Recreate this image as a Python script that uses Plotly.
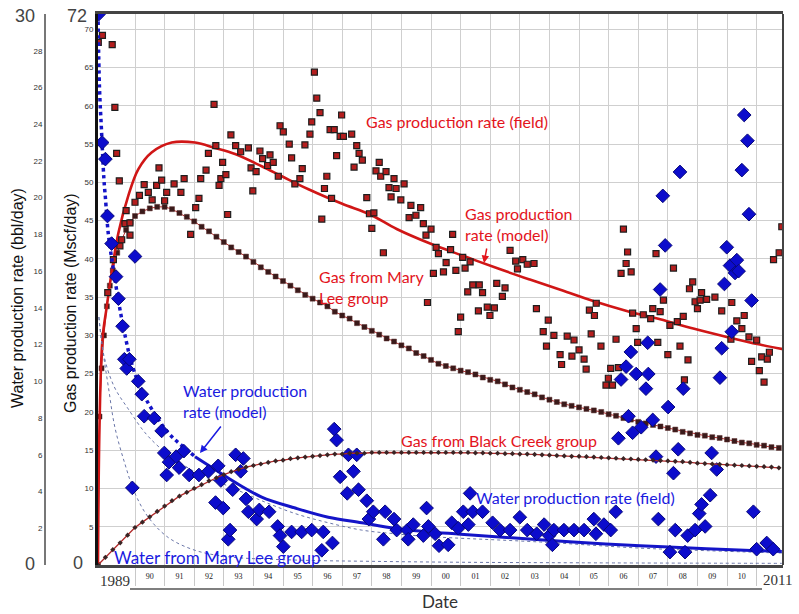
import plotly.graph_objects as go

# ---------------- data ----------------
gas_field_t = [1988.76, 1988.9, 1989.08, 1989.23, 1989.27, 1989.32, 1989.38, 1989.47, 1989.49, 1989.55,
               1989.66, 1989.70, 1989.83, 1989.83, 1990.00, 1990.15, 1990.31, 1990.45, 1990.58, 1990.73,
               1990.81, 1990.90, 1991.00, 1991.07, 1991.32, 1991.55, 1991.66, 1991.88, 1992.05, 1992.16,
               1992.22, 1992.40, 1992.48, 1992.67, 1992.73, 1992.84, 1992.90, 1992.96, 1993.07, 1993.13,
               1993.24, 1993.40, 1993.57, 1993.83, 1993.92, 1993.98, 1994.09, 1994.22, 1994.31, 1994.48,
               1994.56, 1994.67, 1994.84, 1994.90, 1995.01, 1995.21, 1995.29, 1995.40, 1995.57, 1995.65,
               1995.74, 1995.91, 1995.97, 1996.06, 1996.14, 1996.25, 1996.31, 1996.40, 1996.48, 1996.59,
               1996.64, 1996.73, 1996.81, 1996.93, 1996.98, 1997.04, 1997.32, 1997.40, 1997.49, 1997.57,
               1997.68, 1997.83, 1997.92, 1998.00, 1998.07, 1998.14, 1998.25, 1998.30, 1998.39, 1998.48,
               1998.58, 1998.65, 1998.75, 1998.82, 1998.98, 1999.09, 1999.26, 1999.32, 1999.49, 1999.65,
               1999.74, 1999.83, 1999.88, 2000.00, 2000.08, 2000.17, 2000.25, 2000.42, 2000.51, 2000.66,
               2000.73, 2000.84, 2000.92, 2001.00, 2001.07, 2001.15, 2001.24, 2001.32, 2001.41, 2001.60,
               2001.63, 2001.74, 2001.90, 2001.99, 2002.14, 2002.22, 2002.41, 2002.50, 2002.67, 2002.86,
               2002.92, 2003.10, 2003.25, 2003.48, 2003.56, 2003.79, 2003.90, 2003.96, 2004.15, 2004.36,
               2004.41, 2004.60, 2004.76, 2004.83, 2005.00, 2005.17, 2005.24, 2005.35, 2005.41, 2005.52,
               2005.58, 2005.74, 2005.91, 2005.99, 2006.07, 2006.13, 2006.25, 2006.33, 2006.42, 2006.50,
               2006.59, 2006.64, 2006.76, 2006.81, 2006.93, 2006.98, 2007.17, 2007.42, 2007.49, 2007.60,
               2007.66, 2007.74, 2007.85, 2008.00, 2008.07, 2008.19, 2008.32, 2008.41, 2008.52, 2008.56,
               2008.68, 2008.73, 2008.84, 2008.92, 2009.00, 2009.09, 2009.14, 2009.31, 2009.59, 2009.82,
               2010.13, 2010.16, 2010.33, 2010.50, 2010.58, 2010.74, 2010.83, 2011.00, 2011.09, 2011.17,
               2011.25, 2011.36, 2011.43, 2011.57, 2011.76, 2011.85]
gas_field_v = [68.3, 69.2, 35.6, 68.0, 39.9, 59.8, 53.8, 50.2, 41.7, 42.5,
               44.6, 46.3, 44.7, 43.1, 47.4, 48.3, 49.7, 48.7, 47.7, 49.6,
               51.9, 50.3, 47.6, 48.7, 49.8, 48.7, 50.5, 43.2, 46.7, 47.9,
               50.5, 51.6, 53.8, 60.2, 54.8, 49.6, 50.5, 52.6, 51.0, 45.8,
               56.2, 54.8, 54.0, 54.5, 51.9, 48.9, 51.4, 54.1, 53.1, 52.2,
               53.6, 52.6, 50.8, 57.4, 56.6, 55.0, 53.2, 49.8, 50.5, 51.8,
               54.9, 56.3, 57.9, 64.4, 61.0, 59.1, 45.2, 49.2, 50.8, 56.9,
               47.9, 56.9, 53.5, 56.0, 58.8, 56.0, 56.3, 52.0, 54.8, 53.8,
               52.9, 48.0, 45.9, 44.0, 46.0, 51.5, 52.6, 50.8, 40.8, 51.4,
               49.3, 48.1, 50.5, 49.2, 47.7, 49.8, 45.4, 47.0, 45.7, 46.7,
               44.6, 43.1, 34.3, 43.9, 38.1, 41.5, 40.7, 38.3, 39.5, 41.2,
               43.2, 38.5, 30.5, 32.4, 40.2, 38.8, 35.7, 39.6, 36.6, 33.2,
               36.6, 35.6, 33.7, 32.6, 33.6, 36.8, 35.1, 36.2, 41.1, 39.7,
               38.7, 39.9, 39.3, 39.4, 33.5, 30.5, 28.6, 32.0, 30.0, 27.5,
               26.2, 29.9, 27.3, 29.4, 28.1, 26.9, 25.6, 33.3, 30.2, 32.6,
               34.2, 28.6, 23.5, 24.4, 25.7, 23.5, 29.5, 25.8, 38.1, 43.9,
               39.4, 40.9, 38.3, 32.9, 30.9, 29.1, 32.7, 32.2, 33.5, 40.7,
               29.1, 33.1, 34.6, 27.5, 31.3, 38.8, 31.8, 28.6, 32.5, 24.2,
               26.8, 36.1, 37.0, 34.4, 33.5, 34.6, 35.6, 34.7, 35.0, 33.2,
               29.5, 34.3, 31.9, 30.9, 32.6, 29.8, 26.6, 29.4, 25.4, 27.2,
               23.9, 26.9, 27.8, 39.9, 40.8, 44.2]

gas_model_t = [1988.75, 1988.8, 1988.9, 1989.04, 1989.21, 1989.44, 1989.77, 1990.11, 1990.56, 1991.24,
               1992.03, 1992.7, 1993.38, 1994.28, 1994.96, 1995.86, 1997.0, 1997.94, 1998.84, 1999.97,
               2001.09, 2002.22, 2003.34, 2004.42, 2005.48, 2006.61, 2007.74, 2008.86, 2009.99, 2011.11,
               2011.89]
gas_model_v = [0.0, 18.0, 29.5, 33.6, 38.2, 43.4, 48.2, 51.7, 53.9, 55.2,
               55.2, 54.5, 53.7, 52.1, 50.8, 49.1, 47.2, 45.8, 43.9, 42.0,
               40.4, 38.8, 37.3, 35.9, 34.5, 33.2, 32.1, 30.9, 29.8, 28.8,
               28.2]

mary_lee_t = [1988.75, 1988.8, 1988.87, 1988.95, 1989.05, 1989.15, 1989.25, 1989.4, 1989.55, 1989.7,
              1989.85, 1990.0, 1990.25, 1990.5, 1990.75, 1991.0, 1991.25, 1991.5, 1991.75, 1992.0,
              1992.25, 1992.5, 1992.75, 1993.0, 1993.25, 1993.5, 1993.75, 1994.0, 1994.25, 1994.5,
              1994.75, 1995.0, 1995.25, 1995.5, 1995.75, 1996.0, 1996.25, 1996.5, 1996.75, 1997.0,
              1997.25, 1997.5, 1997.75, 1998.0, 1998.25, 1998.5, 1998.75, 1999.0, 1999.25, 1999.5,
              1999.75, 2000.0, 2000.25, 2000.5, 2000.75, 2001.0, 2001.25, 2001.5, 2001.75, 2002.0,
              2002.25, 2002.5, 2002.75, 2003.0, 2003.25, 2003.5, 2003.75, 2004.0, 2004.25, 2004.5,
              2004.75, 2005.0, 2005.25, 2005.5, 2005.75, 2006.0, 2006.25, 2006.5, 2006.75, 2007.0,
              2007.25, 2007.5, 2007.75, 2008.0, 2008.25, 2008.5, 2008.75, 2009.0, 2009.25, 2009.5,
              2009.75, 2010.0, 2010.25, 2010.5, 2010.75, 2011.0, 2011.25, 2011.5, 2011.75]
mary_lee_v = [0.0, 19.4, 25.7, 30.0, 33.8, 36.5, 38.5, 40.8, 42.5, 43.8,
              44.8, 45.6, 46.2, 46.6, 46.8, 46.8, 46.5, 46.0, 45.5, 44.9,
              44.2, 43.6, 42.9, 42.2, 41.5, 40.9, 40.3, 39.6, 38.9, 38.3,
              37.7, 37.1, 36.5, 35.9, 35.3, 34.8, 34.3, 33.8, 33.1, 32.6,
              32.2, 31.6, 31.1, 30.6, 30.1, 29.6, 29.2, 28.7, 28.3, 27.7,
              27.3, 26.8, 26.3, 26.0, 25.7, 25.4, 25.2, 24.9, 24.5, 24.2,
              24.0, 23.6, 23.2, 22.9, 22.6, 22.3, 21.9, 21.6, 21.3, 21.0,
              20.8, 20.6, 20.4, 20.2, 20.0, 19.7, 19.5, 19.2, 19.0, 18.7,
              18.5, 18.3, 18.1, 17.9, 17.7, 17.4, 17.2, 17.0, 16.9, 16.7,
              16.6, 16.4, 16.2, 16.0, 15.9, 15.7, 15.6, 15.4, 15.3]

black_creek_t = [1988.75, 1989.0, 1989.25, 1989.5, 1989.75, 1990.0, 1990.25, 1990.5, 1990.75, 1991.0,
                 1991.25, 1991.5, 1991.75, 1992.0, 1992.25, 1992.5, 1992.75, 1993.0, 1993.25, 1993.5,
                 1993.75, 1994.0, 1994.25, 1994.5, 1994.75, 1995.0, 1995.25, 1995.5, 1995.75, 1996.0,
                 1996.25, 1996.5, 1996.75, 1997.0, 1997.25, 1997.5, 1997.75, 1998.0, 1998.25, 1998.5,
                 1998.75, 1999.0, 1999.25, 1999.5, 1999.75, 2000.0, 2000.25, 2000.5, 2000.75, 2001.0,
                 2001.25, 2001.5, 2001.75, 2002.0, 2002.25, 2002.5, 2002.75, 2003.0, 2003.25, 2003.5,
                 2003.75, 2004.0, 2004.25, 2004.5, 2004.75, 2005.0, 2005.25, 2005.5, 2005.75, 2006.0,
                 2006.25, 2006.5, 2006.75, 2007.0, 2007.25, 2007.5, 2007.75, 2008.0, 2008.25, 2008.5,
                 2008.75, 2009.0, 2009.25, 2009.5, 2009.75, 2010.0, 2010.25, 2010.5, 2010.75, 2011.0,
                 2011.25, 2011.5, 2011.75]
black_creek_v = [0.0, 1.0, 2.0, 2.9, 3.9, 4.9, 5.6, 6.3, 7.0, 7.7,
                 8.4, 9.0, 9.5, 10.0, 10.5, 11.0, 11.4, 11.8, 12.2, 12.5,
                 12.8, 13.0, 13.2, 13.4, 13.6, 13.7, 13.9, 14.0, 14.1, 14.2,
                 14.3, 14.4, 14.5, 14.5, 14.6, 14.6, 14.6, 14.7, 14.7, 14.7,
                 14.7, 14.7, 14.7, 14.7, 14.7, 14.7, 14.7, 14.7, 14.7, 14.7,
                 14.7, 14.65, 14.65, 14.6, 14.6, 14.55, 14.55, 14.5, 14.5, 14.45,
                 14.4, 14.35, 14.3, 14.25, 14.2, 14.2, 14.15, 14.1, 14.05, 14.0,
                 13.95, 13.9, 13.85, 13.8, 13.75, 13.7, 13.65, 13.6, 13.55, 13.5,
                 13.4, 13.3, 13.25, 13.2, 13.15, 13.1, 13.05, 13.0, 12.95, 12.9,
                 12.85, 12.8, 12.7]

water_field_t = [1988.78, 1988.89, 1989.00, 1989.07, 1989.21, 1989.36, 1989.44, 1989.58, 1989.64, 1989.72,
                 1989.81, 1989.91, 1990.00, 1990.11, 1990.23, 1990.31, 1990.65, 1990.90, 1990.99, 1991.07,
                 1991.15, 1991.39, 1991.49, 1991.65, 1991.83, 1992.16, 1992.48, 1992.72, 1992.81, 1992.90,
                 1992.98, 1993.15, 1993.21, 1993.30, 1993.40, 1993.57, 1993.66, 1993.75, 1993.83, 1994.11,
                 1994.20, 1994.53, 1994.82, 1994.90, 1995.01, 1995.29, 1995.63, 1995.97, 1996.31, 1996.36,
                 1996.67, 1996.73, 1996.81, 1996.93, 1997.17, 1997.21, 1997.38, 1997.49, 1997.55, 1997.83,
                 1997.90, 1998.05, 1998.39, 1998.45, 1998.75, 1998.84, 1999.20, 1999.23, 1999.40, 1999.74,
                 1999.85, 1999.91, 2000.14, 2000.27, 2000.58, 2000.70, 2000.92, 2001.09, 2001.26, 2001.32,
                 2001.41, 2001.74, 2002.08, 2002.33, 2002.67, 2003.00, 2003.25, 2003.57, 2003.82, 2003.99,
                 2004.10, 2004.15, 2004.49, 2004.83, 2005.17, 2005.50, 2005.57, 2005.84, 2006.07, 2006.24,
                 2006.33, 2006.42, 2006.59, 2006.67, 2006.75, 2006.81, 2006.93, 2007.10, 2007.26, 2007.32,
                 2007.34, 2007.49, 2007.60, 2007.68, 2007.74, 2007.83, 2007.91, 2008.01, 2008.07, 2008.19,
                 2008.25, 2008.35, 2008.41, 2008.52, 2008.58, 2008.67, 2008.92, 2009.06, 2009.14, 2009.26,
                 2009.43, 2009.48, 2009.65, 2009.76, 2009.82, 2009.91, 2009.99, 2010.10, 2010.16, 2010.27,
                 2010.33, 2010.39, 2010.50, 2010.58, 2010.69, 2010.74, 2010.83, 2010.89, 2011.00, 2011.34,
                 2011.56]
water_field_v = [30.0, 23.0, 22.1, 19.0, 17.5, 15.7, 14.5, 13.0, 11.2, 10.7,
                 11.2, 4.2, 16.8, 10.0, 9.3, 8.1, 8.0, 7.3, 6.1, 4.9,
                 5.6, 5.9, 5.3, 6.2, 4.9, 4.9, 5.1, 3.4, 5.4, 4.6,
                 3.1, 1.4, 1.9, 4.1, 6.0, 5.1, 5.8, 3.6, 2.9, 2.5,
                 3.0, 2.9, 2.1, 1.6, 1.0, 1.8, 1.8, 1.9, 0.8, 1.8,
                 1.2, 7.4, 6.8, 4.8, 3.9, 6.0, 5.1, 6.0, 4.1, 3.5,
                 2.5, 2.9, 1.4, 2.9, 2.5, 1.9, 1.9, 1.4, 2.2, 1.6,
                 3.1, 2.1, 1.7, 1.05, 1.1, 2.3, 2.0, 2.9, 2.2, 3.9,
                 2.9, 2.9, 2.3, 1.9, 1.9, 2.6, 1.9, 1.7, 2.2, 1.6,
                 1.1, 1.9, 1.9, 1.9, 1.9, 2.5, 1.7, 2.2, 1.9, 2.9,
                 6.9, 10.1, 10.8, 8.1, 11.6, 7.2, 10.4, 7.5, 9.6, 12.1,
                 10.4, 7.9, 5.9, 2.5, 15.0, 20.1, 17.4, 8.6, 0.7, 5.0,
                 1.9, 6.3, 21.4, 9.6, 0.7, 1.6, 1.9, 2.8, 3.3, 2.1,
                 3.8, 6.1, 5.2, 10.2, 11.8, 15.3, 17.3, 16.3, 12.7, 15.9,
                 16.6, 16.0, 21.5, 24.5, 23.1, 19.1, 14.4, 2.9, 0.86, 1.2,
                 0.86]

water_model_t = [1988.75, 1988.8, 1988.87, 1988.95, 1989.0, 1989.1, 1989.25, 1989.45, 1989.65, 1989.9,
                 1990.2, 1990.56, 1991.12, 1991.58, 1992.03, 1992.7, 1993.38, 1994.28, 1995.41, 1996.53,
                 1997.66, 1998.78, 1999.91, 2001.0, 2002.55, 2004.8, 2007.06, 2009.31, 2011.85]
water_model_v = [30.0, 26.0, 23.6, 21.0, 20.0, 18.0, 16.3, 14.3, 12.6, 10.9,
                 9.6, 8.5, 7.2, 6.5, 5.9, 5.2, 4.5, 3.7, 3.1, 2.6,
                 2.3, 2.0, 1.8, 1.68, 1.5, 1.25, 1.05, 0.88, 0.73]

water_ml_t = [1988.78, 1988.93, 1989.1, 1989.32, 1989.66, 1990.0, 1990.45, 1991.12, 1992.03, 1993.15,
              1995.4, 1998.0, 2001.0, 2005.0, 2011.85]
water_ml_v = [13.5, 11.5, 9.7, 7.5, 5.5, 3.9, 2.6, 1.5, 0.8, 0.45,
              0.27, 0.2, 0.15, 0.12, 0.09]

water_bc_t = [1988.78, 1988.95, 1989.3, 1989.77, 1990.34, 1990.9, 1991.58, 1992.36, 1993.15, 1994.28,
              1995.41, 1996.53, 1997.66, 1998.78, 1999.91, 2003.7, 2007.06, 2009.31, 2011.85]
water_bc_v = [13.5, 11.4, 9.7, 8.5, 7.2, 6.3, 5.5, 4.8, 4.3, 3.5,
              2.8, 2.3, 1.9, 1.7, 1.55, 1.25, 0.92, 0.78, 0.65]

year_bounds = list(range(1990, 2012))
year_labels = ["90", "91", "92", "93", "94", "95", "96", "97", "98", "99", "00",
               "01", "02", "03", "04", "05", "06", "07", "08", "09", "10"]
gas_ticks = [5, 10, 15, 20, 25, 30, 35, 40, 45, 50, 55, 60, 65, 70]
water_ticks = [2, 4, 6, 8, 10, 12, 14, 16, 18, 20, 22, 24, 26, 28]

# ---------------- layout helpers ----------------
W, H = 799, 614
ML, MR, MT, MB = 0, 16, 14, 49
PW = W - ML - MR
PH = H - MT - MB
X0 = 98  # left edge of plot box in pixels


def px(x):
    return (x - ML) / PW


def py(y):
    return (H - MB - y) / PH


RED = "#e3141c"
BLUE = "#1a1ae0"
XR = [1988.75, 2011.89]

fig = go.Figure()

# thin dotted water components
fig.add_trace(go.Scatter(x=water_ml_t, y=water_ml_v, yaxis="y2", mode="lines",
                         line=dict(color="#6a76a8", width=1, dash="dot", shape="spline"),
                         hoverinfo="skip"))
fig.add_trace(go.Scatter(x=water_bc_t, y=water_bc_v, yaxis="y2", mode="lines",
                         line=dict(color="#6a76a8", width=1, dash="dot", shape="spline"),
                         hoverinfo="skip"))

# Black Creek gas
fig.add_trace(go.Scatter(x=black_creek_t, y=black_creek_v, xaxis="x2", mode="lines+markers",
                         line=dict(color="#b02828", width=1.3),
                         marker=dict(symbol="diamond", size=4, color="#3a2424")))
# Mary Lee gas
fig.add_trace(go.Scatter(x=mary_lee_t, y=mary_lee_v, mode="lines+markers",
                         line=dict(color="#c03030", width=1),
                         marker=dict(symbol="square", size=5, color="#3a1a1a",
                                     line=dict(color="#5a2a2a", width=0.5))))
# gas model
fig.add_trace(go.Scatter(x=gas_model_t, y=gas_model_v, mode="lines",
                         line=dict(color="#d01616", width=2.6, shape="spline")))
# gas field
fig.add_trace(go.Scatter(x=gas_field_t, y=gas_field_v, mode="markers",
                         marker=dict(symbol="square", size=6, color="#b41e1e",
                                     line=dict(color="#1e1e1e", width=1.2))))

# water model: dotted early part, solid later part
split = 14
fig.add_trace(go.Scatter(x=water_model_t[:split + 1], y=water_model_v[:split + 1], yaxis="y2",
                         mode="lines", line=dict(color="#1414c8", width=3.5, dash="dot", shape="spline")))
fig.add_trace(go.Scatter(x=water_model_t[split:], y=water_model_v[split:], yaxis="y2",
                         mode="lines", line=dict(color="#1414c8", width=3, shape="spline")))
# water field
fig.add_trace(go.Scatter(x=water_field_t, y=water_field_v, yaxis="y2", mode="markers",
                         marker=dict(symbol="diamond", size=10.5, color="#0c0ccc",
                                     line=dict(color="#08087a", width=1))))

ann = []


def label(text, x, y, color, size=16, xanchor="left", align="left", family="Lato"):
    ann.append(dict(text=text, x=px(x), y=py(y), xref="paper", yref="paper", showarrow=False,
                    xanchor=xanchor, yanchor="middle", align=align,
                    font=dict(family=family, size=size, color=color)))


label("Gas production rate (field)", 364, 121, RED)
label("Gas production<br>rate (model)", 463, 224, RED)
label("Gas from Mary<br>Lee group", 317, 287, RED)
label("Gas from Black Creek group", 399, 440, RED)
label("Water production rate (field)", 474, 497, BLUE)
label("Water production<br>rate (model)", 181, 401, BLUE)
label("Water from Mary Lee group", 112, 557, BLUE, size=17)

# arrows
ann.append(dict(text="", x=px(484), y=py(263), xref="paper", yref="paper", showarrow=True,
                ax=3, ay=-16, arrowhead=2, arrowsize=1, arrowwidth=1.5, arrowcolor=RED))
ann.append(dict(text="", x=px(200), y=py(453), xref="paper", yref="paper", showarrow=True,
                ax=22, ay=-28, arrowhead=2, arrowsize=1, arrowwidth=1.5, arrowcolor=BLUE))

# big axis end labels
label("72", 77, 16, "#444", size=18, xanchor="center", family="Liberation Sans")
label("0", 78, 563, "#444", size=18, xanchor="center", family="Liberation Sans")
label("30", 25, 16, "#444", size=18, xanchor="center", family="Liberation Sans")
label("0", 30, 564, "#444", size=18, xanchor="center", family="Liberation Sans")
label("1989", 115, 581, "#333", size=15, xanchor="center", family="Liberation Serif")
label("2011", 777, 580, "#333", size=15, xanchor="center", family="Liberation Serif")
label("Date", 440, 601, "#333", size=17, xanchor="center", family="Lato")

# rotated axis titles
ann.append(dict(text="Water production rate (bbl/day)", x=px(17), y=py(298), xref="paper", yref="paper",
                showarrow=False, textangle=-90, xanchor="center", yanchor="middle",
                font=dict(family="Liberation Sans", size=16, color="#111")))
ann.append(dict(text="Gas production rate (Mscf/day)", x=px(70), y=py(303), xref="paper", yref="paper",
                showarrow=False, textangle=-90, xanchor="center", yanchor="middle",
                font=dict(family="Liberation Sans", size=16, color="#111")))

shapes = [
    dict(type="line", xref="paper", yref="paper", x0=px(130), x1=px(762), y0=py(589), y1=py(589),
         line=dict(color="#555", width=1.5)),
    dict(type="line", xref="paper", yref="paper", x0=1, x1=1, y0=0, y1=1,
         line=dict(color="#444", width=2)),
]

fig.update_layout(
    width=W, height=H, margin=dict(l=ML, r=MR, t=MT, b=MB),
    paper_bgcolor="white", plot_bgcolor="white", showlegend=False,
    annotations=ann, shapes=shapes,
    xaxis=dict(domain=[px(X0), 1], range=XR, tickvals=year_bounds, showticklabels=False,
               ticks="outside", ticklen=18, tickcolor="#c8c8c8", tickwidth=1,
               showgrid=True, gridcolor="#cfcfcf", gridwidth=1, zeroline=False,
               showline=True, linecolor="#444", linewidth=2.5, mirror=True),
    xaxis2=dict(overlaying="x", anchor="y", side="bottom", range=XR,
                tickvals=[b + 0.5 for b in year_bounds[:-1]], ticktext=year_labels,
                ticks="outside", ticklen=3, tickcolor="rgba(0,0,0,0)",
                showgrid=False, zeroline=False, showline=False,
                tickfont=dict(family="Liberation Serif", size=8, color="#222")),
    yaxis=dict(range=[0, 72], tickvals=gas_ticks, showgrid=True, gridcolor="#cfcfcf", gridwidth=1,
               zeroline=False, showline=True, linecolor="#111", linewidth=3, ticks="",
               tickfont=dict(family="Liberation Sans", size=8, color="#333")),
    yaxis2=dict(overlaying="y", anchor="free", position=px(45), side="left", range=[0, 30],
                tickvals=water_ticks, showgrid=False, zeroline=False, showline=True,
                linecolor="#777", linewidth=2, ticks="",
                tickfont=dict(family="Liberation Sans", size=8, color="#333")),
)

fig.write_html("out.html")
